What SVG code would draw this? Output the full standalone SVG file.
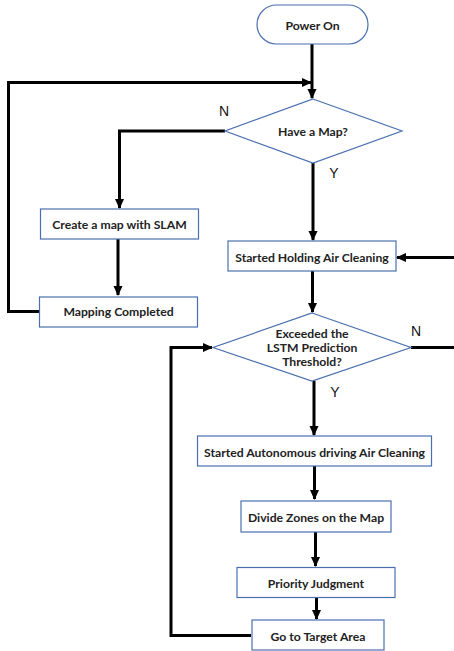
<svg xmlns="http://www.w3.org/2000/svg" width="454" height="651" viewBox="0 0 454 651">
<style>
.box{fill:#fff;stroke:#4a6fb0;stroke-width:1.2}
.t{font-family:Lato,"Open Sans",sans-serif;font-weight:bold;font-size:12.2px;fill:#222;text-anchor:middle;dominant-baseline:central}
.lbl{font-family:"Liberation Sans",Arial,sans-serif;font-size:14px;fill:#111;text-anchor:middle;dominant-baseline:central}
.c{fill:none;stroke:#000;stroke-width:3}
</style>
<defs>
<marker id="ah" markerUnits="userSpaceOnUse" markerWidth="10" markerHeight="10" viewBox="0 0 10 10" refX="9" refY="5" orient="auto">
<path d="M0,0.5 L10,5 L0,9.5 Z" fill="#000"/>
</marker>
</defs>
<rect width="454" height="651" fill="#fff"/>
<g id="connectors">
<path class="c" d="M312,44 V98" marker-end="url(#ah)"/>
<path class="c" d="M39,311.5 H8.5 V82.5 H311" marker-end="url(#ah)"/>
<path class="c" d="M225,131 H119.5 V208" marker-end="url(#ah)"/>
<path class="c" d="M118,239 V295" marker-end="url(#ah)"/>
<path class="c" d="M313,163 V240" marker-end="url(#ah)"/>
<path class="c" d="M454,257.5 H397" marker-end="url(#ah)"/>
<path class="c" d="M312.5,271 V312" marker-end="url(#ah)"/>
<path class="c" d="M411,347.5 H454"/>
<path class="c" d="M314,381 V435" marker-end="url(#ah)"/>
<path class="c" d="M314.5,466 V499" marker-end="url(#ah)"/>
<path class="c" d="M315.5,532 V566" marker-end="url(#ah)"/>
<path class="c" d="M316.5,597 V619" marker-end="url(#ah)"/>
<path class="c" d="M251,635.5 H171 V347.5 H212" marker-end="url(#ah)"/>
</g>
<g id="power-on"><rect class="box" x="257" y="5" width="111" height="39" rx="19.5"/><text class="t" x="312.5" y="25">Power On</text></g>
<g id="have-map"><polygon class="box" points="313,99 402,131 313,163 225,131"/><text class="t" x="313" y="131">Have a Map?</text></g>
<g id="create-map"><rect class="box" x="40.5" y="209" width="158" height="30"/><text class="t" x="119.5" y="224">Create a map with SLAM</text></g>
<g id="mapping-completed"><rect class="box" x="39.5" y="297" width="158" height="30"/><text class="t" x="118.5" y="311">Mapping Completed</text></g>
<g id="holding"><rect class="box" x="228" y="241" width="168" height="30"/><text class="t" x="312" y="257">Started Holding Air Cleaning</text></g>
<g id="threshold"><polygon class="box" points="312,313 411,347.5 312,381 213,347.5"/><text class="t" x="312" y="333">Exceeded the</text><text class="t" x="312" y="347">LSTM Prediction</text><text class="t" x="312" y="361">Threshold?</text></g>
<g id="autonomous"><rect class="box" x="197.5" y="436" width="234" height="30"/><text class="t" x="314.5" y="452">Started Autonomous driving Air Cleaning</text></g>
<g id="divide"><rect class="box" x="241" y="501" width="150" height="31"/><text class="t" x="316" y="517">Divide Zones on the Map</text></g>
<g id="priority"><rect class="box" x="237" y="567.5" width="158" height="30"/><text class="t" x="316" y="583">Priority Judgment</text></g>
<g id="goto"><rect class="box" x="252" y="620" width="132" height="30"/><text class="t" x="318" y="636">Go to Target Area</text></g>
<g id="labels">
<text class="lbl" x="224" y="111">N</text>
<text class="lbl" x="334" y="173">Y</text>
<text class="lbl" x="416" y="331">N</text>
<text class="lbl" x="335" y="392">Y</text>
</g>
</svg>
